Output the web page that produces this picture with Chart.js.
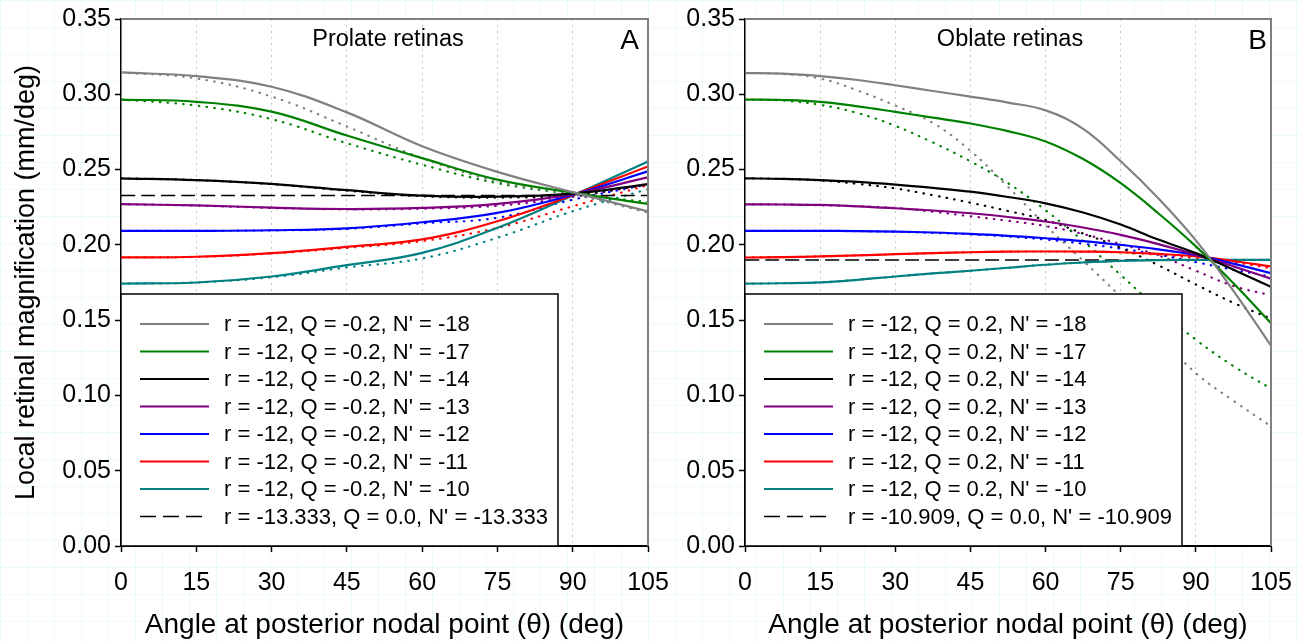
<!DOCTYPE html>
<html>
<head>
<meta charset="utf-8">
<script src="https://cdn.jsdelivr.net/npm/chart.js@4.4.1/dist/chart.umd.min.js"></script>
<style>
    html, body { margin: 0; padding: 0; }
    body {
        width: 1301px; height: 642px; overflow: hidden; background-color: #fff;
        background-image:
            linear-gradient(to right, rgba(0, 210, 210, 0.08) 1px, transparent 1px),
            linear-gradient(to bottom, rgba(0, 210, 210, 0.08) 1px, transparent 1px);
        background-size: 27px 27px;
    }
    #wrap { position: relative; width: 1301px; height: 642px; }
    canvas { position: absolute; top: 0; }
    #chartA { left: 0; }
    #chartB { left: 650px; }
</style>
</head>
<body>
<div id="wrap">
    <canvas id="chartA" width="700" height="642"></canvas>
    <canvas id="chartB" width="651" height="642"></canvas>
</div>
<script>
// Углы (градусы) для двух панелей
const anglesA = [0, 15, 30, 45, 60, 75, 90, 105];
const anglesB = [0, 7.5, 15, 22.5, 30, 37.5, 45, 52.5, 60, 67.5, 75, 82.5, 90, 97.5, 105];
const refAngles = [0, 105];

// Панель A (prolate): сплошные линии
const pSolid18 = [0.3145, 0.3120, 0.3050, 0.2880, 0.2655, 0.2485, 0.2350, 0.2222];
const pSolid17 = [0.2965, 0.2950, 0.2885, 0.2726, 0.2576, 0.2433, 0.2347, 0.2272];
const pSolid14 = [0.2442, 0.2430, 0.2405, 0.2363, 0.2327, 0.2320, 0.2340, 0.2404];
const pSolid13 = [0.2270, 0.2262, 0.2247, 0.2238, 0.2245, 0.2272, 0.2337, 0.2448];
const pSolid12 = [0.2093, 0.2093, 0.2097, 0.2110, 0.2150, 0.2212, 0.2333, 0.2488];
const pSolid11 = [0.1917, 0.1921, 0.1945, 0.1987, 0.2036, 0.2157, 0.2330, 0.2521];
const pSolid10 = [0.1743, 0.1750, 0.1790, 0.1865, 0.1947, 0.2113, 0.2328, 0.2554];
// Панель A: точечные линии
const pDot18 = [0.3145, 0.3105, 0.2985, 0.2786, 0.2576, 0.2422, 0.2335, 0.2215];
const pDot17 = [0.2965, 0.2925, 0.2835, 0.2675, 0.2532, 0.2410, 0.2338, 0.2285];
const pDot14 = [0.2442, 0.2430, 0.2403, 0.2360, 0.2323, 0.2314, 0.2330, 0.2400];
const pDot13 = [0.2270, 0.2261, 0.2245, 0.2236, 0.2240, 0.2260, 0.2318, 0.2405];
const pDot12 = [0.2093, 0.2093, 0.2096, 0.2106, 0.2143, 0.2180, 0.2300, 0.2402];
const pDot11 = [0.1917, 0.1920, 0.1943, 0.1980, 0.2025, 0.2113, 0.2256, 0.2397];
const pDot10 = [0.1743, 0.1750, 0.1785, 0.1850, 0.1910, 0.2047, 0.2223, 0.2370];
const pRef = [0.2327, 0.2327];

// Панель B (oblate): сплошные линии
const oSolid18 = [0.3141, 0.3137, 0.3121, 0.3095, 0.3060, 0.3022, 0.2985, 0.2945, 0.2893, 0.2770, 0.2555, 0.2310, 0.2030, 0.1695, 0.1330];
const oSolid17 = [0.2965, 0.2962, 0.2950, 0.2920, 0.2883, 0.2845, 0.2806, 0.2755, 0.2687, 0.2570, 0.2410, 0.2210, 0.1990, 0.1745, 0.1480];
const oSolid14 = [0.2442, 0.2438, 0.2430, 0.2418, 0.2400, 0.2378, 0.2353, 0.2318, 0.2276, 0.2215, 0.2135, 0.2035, 0.1945, 0.1835, 0.1720];
const oSolid13 = [0.2269, 0.2268, 0.2265, 0.2256, 0.2243, 0.2228, 0.2210, 0.2185, 0.2155, 0.2115, 0.2066, 0.2005, 0.1935, 0.1857, 0.1775];
const oSolid12 = [0.2093, 0.2093, 0.2093, 0.2091, 0.2088, 0.2082, 0.2073, 0.2060, 0.2044, 0.2025, 0.2000, 0.1970, 0.1932, 0.1875, 0.1812];
const oSolid11 = [0.1916, 0.1918, 0.1923, 0.1930, 0.1938, 0.1945, 0.1951, 0.1955, 0.1956, 0.1955, 0.1951, 0.1940, 0.1923, 0.1893, 0.1857];
const oSolid10 = [0.1742, 0.1745, 0.1751, 0.1768, 0.1790, 0.1810, 0.1828, 0.1848, 0.1868, 0.1883, 0.1894, 0.1899, 0.1900, 0.1900, 0.1900];
// Панель B: точечные линии
const oDot18 = [0.3141, 0.3135, 0.3105, 0.3025, 0.2925, 0.2810, 0.2625, 0.2385, 0.2130, 0.1895, 0.1655, 0.1400, 0.1148, 0.0965, 0.0795];
const oDot17 = [0.2965, 0.2958, 0.2930, 0.2875, 0.2790, 0.2680, 0.2555, 0.2410, 0.2230, 0.2025, 0.1800, 0.1575, 0.1370, 0.1195, 0.1045];
const oDot14 = [0.2442, 0.2438, 0.2428, 0.2405, 0.2375, 0.2330, 0.2280, 0.2225, 0.2165, 0.2075, 0.1980, 0.1865, 0.1737, 0.1615, 0.1510];
const oDot13 = [0.2269, 0.2268, 0.2263, 0.2256, 0.2245, 0.2220, 0.2190, 0.2160, 0.2125, 0.2072, 0.2005, 0.1930, 0.1828, 0.1727, 0.1665];
const oDot12 = [0.2093, 0.2093, 0.2093, 0.2091, 0.2087, 0.2080, 0.2070, 0.2055, 0.2035, 0.2008, 0.1975, 0.1935, 0.1885, 0.1835, 0.1790];
const oDot11 = [0.1916, 0.1918, 0.1923, 0.1930, 0.1938, 0.1945, 0.1951, 0.1955, 0.1956, 0.1955, 0.1950, 0.1935, 0.1912, 0.1885, 0.1845];
const oDot10 = [0.1742, 0.1745, 0.1751, 0.1768, 0.1790, 0.1810, 0.1828, 0.1848, 0.1868, 0.1883, 0.1894, 0.1899, 0.1900, 0.1900, 0.1900];
const oRef = [0.190, 0.190];

// Подписи легенды
const nPrimes = ['-18', '-17', '-14', '-13', '-12', '-11', '-10'];
const labelsA = nPrimes.map(n => "r = -12, Q = -0.2, N' = " + n);
const labelsB = nPrimes.map(n => "r = -12, Q = 0.2, N' = " + n);
const refLabelA = "r = -13.333, Q = 0.0, N' = -13.333";
const refLabelB = "r = -10.909, Q = 0.0, N' = -10.909";

const colors = ['#808080', '#008000', '#000000', '#800080', '#0000ff', '#ff0000', '#008080'];
const FONT = '"Liberation Sans", Arial, sans-serif';

function toPoints(xs, ys) {
    return xs.map((x, i) => ({ x: x, y: ys[i] }));
}

// Белый фон области графика
const plotBg = {
    id: 'plotBg',
    beforeDraw(chart) {
        const { ctx, chartArea: a } = chart;
        ctx.save();
        ctx.fillStyle = '#fff';
        ctx.fillRect(a.left, a.top, a.right - a.left, a.bottom - a.top);
        ctx.restore();
    }
};

// Легенда внутри графика, рамка и подписи панели
const panelDecor = {
    id: 'panelDecor',
    afterDatasetsDraw(chart, args, opts) {
        const { ctx, chartArea: a } = chart;
        ctx.save();
        // легенда
        const x0 = a.left, y0 = opts.legendTop, w = opts.legendWidth, h = a.bottom - opts.legendTop;
        ctx.fillStyle = '#fff';
        ctx.fillRect(x0, y0, w, h);
        ctx.strokeStyle = '#000';
        ctx.lineWidth = 1.5;
        ctx.strokeRect(x0, y0, w, h);
        const entries = chart.data.datasets.filter(d => d.inLegend).sort((p, q) => p.legendIndex - q.legendIndex);
        ctx.font = '22px ' + FONT;
        ctx.textBaseline = 'middle';
        ctx.textAlign = 'left';
        entries.forEach((d, i) => {
            const y = y0 + 30 + i * 27.5;
            ctx.beginPath();
            ctx.setLineDash(d.legendDash || []);
            ctx.strokeStyle = d.borderColor;
            ctx.lineWidth = d.borderWidth;
            ctx.moveTo(x0 + 19, y);
            ctx.lineTo(x0 + 88, y);
            ctx.stroke();
            ctx.setLineDash([]);
            ctx.fillStyle = '#000';
            ctx.fillText(d.label, x0 + 103, y + 1);
        });
        // рамка: верх и право серые
        ctx.strokeStyle = '#808080';
        ctx.lineWidth = 2;
        ctx.beginPath();
        ctx.moveTo(a.left, a.top);
        ctx.lineTo(a.right, a.top);
        ctx.lineTo(a.right, a.bottom);
        ctx.stroke();
        // заголовок панели и буква
        ctx.fillStyle = '#000';
        ctx.textBaseline = 'alphabetic';
        ctx.textAlign = 'center';
        ctx.font = '23.5px ' + FONT;
        ctx.fillText(opts.title, opts.titleX, 46);
        ctx.textAlign = 'right';
        ctx.font = '28px ' + FONT;
        ctx.fillText(opts.letter, opts.letterX, 49);
        ctx.restore();
    }
};

function buildDatasets(angles, solids, dots, ref, labels, refLabel) {
    const sets = [];
    solids.forEach((vals, i) => {
        sets.push({
            label: labels[i], data: toPoints(angles, vals),
            borderColor: colors[i], borderWidth: 2.2,
            inLegend: true, legendIndex: i
        });
    });
    sets.push({
        label: refLabel, data: toPoints(refAngles, ref),
        borderColor: '#000', borderWidth: 1.5, borderDash: [14, 6],
        legendDash: [16, 7], inLegend: true, legendIndex: 7
    });
    dots.forEach((vals, i) => {
        sets.push({
            label: labels[i] + ' (dotted)', data: toPoints(angles, vals),
            borderColor: colors[i], borderWidth: 2.2,
            borderDash: [0.5, 7.3], borderCapStyle: 'round'
        });
    });
    return sets;
}

function makeChart(id, datasets, cfg) {
    const tickFont = { family: FONT, size: 25 };
    return new Chart(document.getElementById(id), {
        type: 'line',
        data: { datasets: datasets },
        options: {
            responsive: false,
            animation: false,
            layout: { padding: { top: 17, right: cfg.padRight, left: 0, bottom: 0 } },
            elements: {
                point: { radius: 0, hoverRadius: 0 },
                line: { tension: 0.4, cubicInterpolationMode: 'default', fill: false }
            },
            plugins: {
                legend: { display: false },
                tooltip: { enabled: false },
                panelDecor: cfg.decor
            },
            scales: {
                x: {
                    type: 'linear', min: 0, max: 105,
                    ticks: { stepSize: 15, font: tickFont, color: '#000', padding: 16, maxRotation: 0, autoSkip: false },
                    grid: {
                        color: c => (c.tick && (c.tick.value === 0 || c.tick.value === 105)) ? 'rgba(0,0,0,0)' : '#c4c4c4',
                        lineWidth: 1, tickLength: 6, tickColor: '#000', tickWidth: 1.5
                    },
                    border: { display: true, color: '#000', width: 2, dash: [2, 4] },
                    title: {
                        display: true, text: 'Angle at posterior nodal point (θ) (deg)',
                        font: { family: FONT, size: 28 }, color: '#000', padding: { top: 0, bottom: 0 }
                    },
                    afterFit: s => { s.height = 96; s.paddingLeft = 0; s.paddingRight = 0; }
                },
                y: {
                    type: 'linear', min: 0, max: 0.35,
                    ticks: { stepSize: 0.05, font: tickFont, color: '#000', padding: 4, callback: v => v.toFixed(2) },
                    grid: { drawOnChartArea: false, tickLength: 6, tickColor: '#000', tickWidth: 1.5 },
                    border: { display: true, color: '#000', width: 1.5 },
                    title: {
                        display: cfg.yTitle, text: 'Local retinal magnification (mm/deg)',
                        font: { family: FONT, size: 27 }, color: '#000', padding: { top: 10, bottom: 0 }
                    },
                    afterFit: s => { s.width = cfg.yWidth; }
                }
            }
        },
        plugins: [plotBg, panelDecor]
    });
}

document.addEventListener('DOMContentLoaded', () => {
    makeChart('chartA',
        buildDatasets(anglesA,
            [pSolid18, pSolid17, pSolid14, pSolid13, pSolid12, pSolid11, pSolid10],
            [pDot18, pDot17, pDot14, pDot13, pDot12, pDot11, pDot10],
            pRef, labelsA, refLabelA),
        { padRight: 52, yWidth: 121, yTitle: true,
          decor: { legendTop: 294, legendWidth: 437, title: 'Prolate retinas', titleX: 388, letter: 'A', letterX: 639 } });

    makeChart('chartB',
        buildDatasets(anglesB,
            [oSolid18, oSolid17, oSolid14, oSolid13, oSolid12, oSolid11, oSolid10],
            [oDot18, oDot17, oDot14, oDot13, oDot12, oDot11, oDot10],
            oRef, labelsB, refLabelB),
        { padRight: 30, yWidth: 95, yTitle: false,
          decor: { legendTop: 294, legendWidth: 437, title: 'Oblate retinas', titleX: 360, letter: 'B', letterX: 617 } });
});
</script>
</body>
</html>
